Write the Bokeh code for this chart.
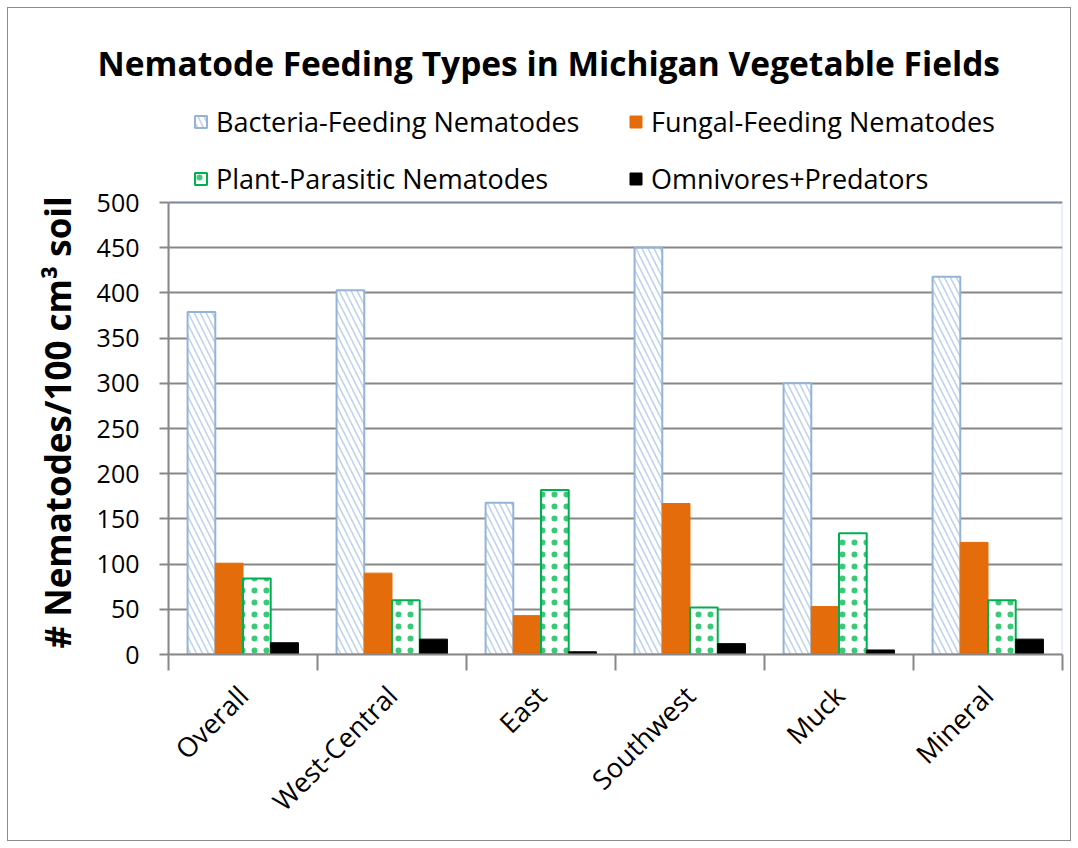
from bokeh.plotting import figure
from bokeh.models import (Legend, LegendItem, FixedTicker, Range1d, ColumnDataSource,
                          Title, BoxAnnotation)
from bokeh.embed import file_html
from bokeh.resources import INLINE
from math import pi

categories = ["Overall", "West-Central", "East", "Southwest", "Muck", "Mineral"]
bacteria = [379, 403, 168, 450, 300, 418]
fungal = [101, 90, 43, 167, 53, 124]
plant = [84, 60, 182, 52, 134, 60]
omni = [13, 17, 3, 12, 5, 17]
series_names = ["Bacteria-Feeding Nematodes", "Fungal-Feeding Nematodes",
                "Plant-Parasitic Nematodes", "Omnivores+Predators"]
y_ticks = [0, 50, 100, 150, 200, 250, 300, 350, 400, 450, 500]
y_max = 500

FONT = "Open Sans"
GRID = "#878787"
BORDER = "#6A9AD4"

# the frame is extended upward so the legend (drawn inside the frame) can sit above the plot area
AXIS_PX = 452
FRAME_H = 554
p = figure(width=1062, height=832, output_backend="svg", toolbar_location=None,
           x_range=Range1d(0, len(categories)),
           y_range=Range1d(0, y_max * FRAME_H / AXIS_PX),
           min_border_left=160, min_border_right=8, min_border_top=92,
           min_border_bottom=186, title=None)
p.frame_width = 894
p.frame_height = FRAME_H

bw = 0.186
centers = [i + 0.5 for i in range(len(categories))]
series = [bacteria, fungal, plant, omni]
styles = [
    dict(fill_color="white", line_color="#95B3D7", line_width=2,
         hatch_pattern="\\", hatch_color="#BDD2EC", hatch_scale=12, hatch_weight=1.5),
    dict(fill_color="#E46C0A", line_color="#E46C0A", line_width=1),
    dict(fill_color="white", line_color="#00B050", line_width=2,
         hatch_pattern=".", hatch_color="#3CC878", hatch_scale=12, hatch_weight=0.6),
    dict(fill_color="#000000", line_color="#000000", line_width=1),
]
renderers = []
for k, (vals, st) in enumerate(zip(series, styles)):
    off = (k - 1.5) * bw
    src = ColumnDataSource(dict(x=[c + off for c in centers], top=vals))
    r = p.vbar(x="x", top="top", bottom=0, width=bw, source=src, **st)
    renderers.append(r)

# plot-area border (top and right in blue)
p.add_layout(BoxAnnotation(left=0, right=len(categories), bottom=0, top=y_max,
                           fill_alpha=0, line_color=BORDER, line_width=2, level="glyph"))

# axes
p.xaxis.ticker = FixedTicker(ticks=centers, minor_ticks=list(range(len(categories) + 1)))
p.xaxis.major_label_overrides = {c: n for c, n in zip(centers, categories)}
p.xaxis.major_tick_out = 0
p.xaxis.major_tick_in = 0
p.xaxis.minor_tick_out = 16
p.xaxis.minor_tick_in = 0
p.xaxis.minor_tick_line_color = GRID
p.xaxis.minor_tick_line_width = 2
p.xaxis.axis_line_color = GRID
p.xaxis.axis_line_width = 2
p.xaxis.major_label_orientation = pi / 4
p.xaxis.major_label_text_font = FONT
p.xaxis.major_label_text_font_size = "27px"
p.xaxis.major_label_text_color = "black"
p.xaxis.major_label_standoff = 20

p.yaxis.bounds = (0, y_max)
p.yaxis.ticker = FixedTicker(ticks=y_ticks)
p.yaxis.major_tick_out = 9
p.yaxis.major_tick_in = 0
p.yaxis.minor_tick_out = 0
p.yaxis.minor_tick_in = 0
p.yaxis.major_tick_line_color = GRID
p.yaxis.major_tick_line_width = 2
p.yaxis.axis_line_color = GRID
p.yaxis.axis_line_width = 2
p.yaxis.major_label_text_font = FONT
p.yaxis.major_label_text_font_size = "25px"
p.yaxis.major_label_text_color = "black"
p.yaxis.major_label_standoff = 20

# y-axis title as a left-side Title so it can be centred on the 0-500 part of the axis
p.add_layout(Title(text="# Nematodes/100 cm\u00b3 soil", align="left", offset=6,
                   text_font=FONT, text_font_style="bold", text_font_size="35px",
                   text_color="black", standoff=26), "left")

p.xgrid.visible = False
p.ygrid.ticker = FixedTicker(ticks=y_ticks)
p.ygrid.grid_line_color = GRID
p.ygrid.grid_line_width = 2

p.outline_line_color = None
p.background_fill_color = "white"
p.border_fill_color = "white"

order = [0, 2, 1, 3]  # legend is filled column by column
items = [LegendItem(label=series_names[i], renderers=[renderers[i]]) for i in order]
legend = Legend(items=items, ncols=2, location=(25, 457), padding=0, margin=0,
                border_line_color=None, background_fill_alpha=0,
                glyph_width=15, glyph_height=15, label_standoff=8,
                label_width=392, label_height=20, spacing=20,
                label_text_font=FONT, label_text_font_size="27px",
                label_text_color="black")
p.add_layout(legend, "center")

p.add_layout(Title(text="Nematode Feeding Types in Michigan Vegetable Fields",
                   align="left", offset=-71, text_font=FONT, text_font_style="bold",
                   text_font_size="33.5px", text_color="black", standoff=30), "above")

p.styles = {"border": "1px solid #8c8c8c", "margin-left": "7px", "margin-top": "7px"}

open("out.html", "w").write(file_html(p, INLINE))
